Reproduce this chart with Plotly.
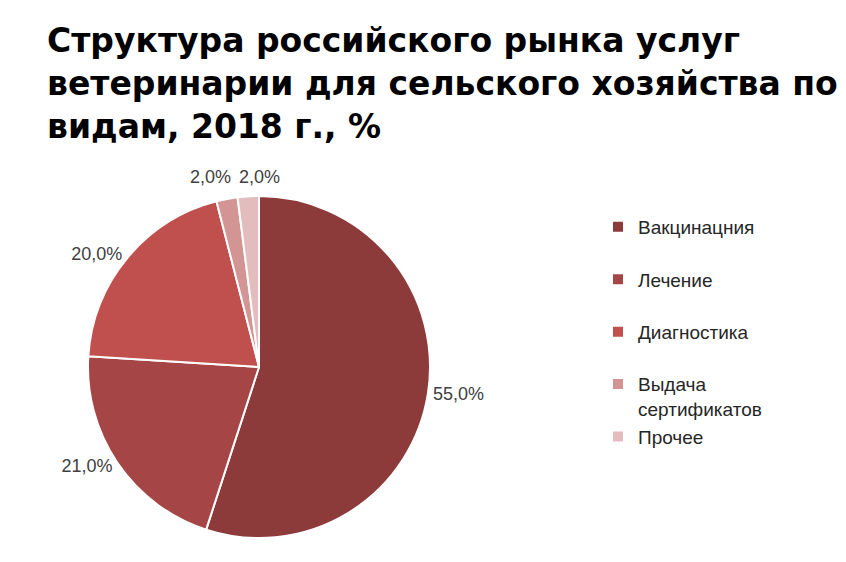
import math
import plotly.graph_objects as go

labels = ["Вакцинацния", "Лечение", "Диагностика", "Выдача<br>сертификатов", "Прочее"]
values = [55, 21, 20, 2, 2]
colors = ["#8C3A3A", "#A54545", "#C0504D", "#D39494", "#E3BDBD"]
title_lines = ["Структура российского рынка услуг",
               "ветеринарии для сельского хозяйства по",
               "видам, 2018 г., %"]

W, H = 846, 562
cx, cy, r = 259, 367, 171          # pie centre and radius in pixels
label_font = dict(family="Liberation Sans, Arial, sans-serif", size=18, color="#404040")

def fmt(v):
    return f"{v:.1f}%".replace(".", ",")

# legend labels: pad single-line ones with an empty second line (keeps Excel-like spacing)
legend_labels = []
for i, lab in enumerate(labels):
    if "<br>" not in lab and i < len(labels) - 1:
        lab = lab + "<br> "
    legend_labels.append(lab)

# the two tiny slices at the top get side-by-side labels (as in the original)
small = [i for i, v in enumerate(values) if v / sum(values) < 0.05]
texts = ["" if i in small else fmt(v) for i, v in enumerate(values)]

fig = go.Figure(go.Pie(
    labels=legend_labels,
    values=values,
    text=texts,
    sort=False,
    direction="clockwise",
    rotation=0,
    marker=dict(colors=colors, line=dict(color="white", width=2)),
    textposition="outside",
    texttemplate="%{text}",
    textfont=label_font,
    domain=dict(x=[(cx - r) / W, (cx + r) / W], y=[(H - cy - r) / H, (H - cy + r) / H]),
    hoverinfo="label+percent",
))

# labels of the small slices, placed around their shared boundary at the top of the pie
total = sum(values)
if len(small) == 2:
    a, b = small
    boundary = 2 * math.pi * sum(values[:b]) / total
    bx = cx + r * math.sin(boundary)
    ly = cy - r - 19
    fig.add_annotation(text=fmt(values[a]), x=(bx - 5) / W, y=1 - ly / H, xref="paper", yref="paper",
                       xanchor="right", yanchor="middle", showarrow=False, font=label_font)
    fig.add_annotation(text=fmt(values[b]), x=(bx - 1) / W, y=1 - ly / H, xref="paper", yref="paper",
                       xanchor="left", yanchor="middle", showarrow=False, font=label_font)

# title
fig.add_annotation(
    text="<b>" + "<br>".join(title_lines) + "</b>",
    x=45 / W, y=1 - 19 / H, xref="paper", yref="paper",
    xanchor="left", yanchor="top", align="left", showarrow=False,
    font=dict(family="DejaVu Sans, sans-serif", size=33, color="#000000"),
)

fig.update_layout(
    width=W, height=H,
    margin=dict(l=0, r=0, t=0, b=0),
    paper_bgcolor="white",
    separators=", ",
    legend=dict(
        x=598 / W, xanchor="left", y=1 - 208 / H, yanchor="top",
        font=dict(family="Liberation Sans, Arial, sans-serif", size=19, color="#262626"),
        valign="top", itemwidth=30, bgcolor="rgba(0,0,0,0)",
        traceorder="normal",
    ),
    showlegend=True,
)

fig.write_html("out.html")
